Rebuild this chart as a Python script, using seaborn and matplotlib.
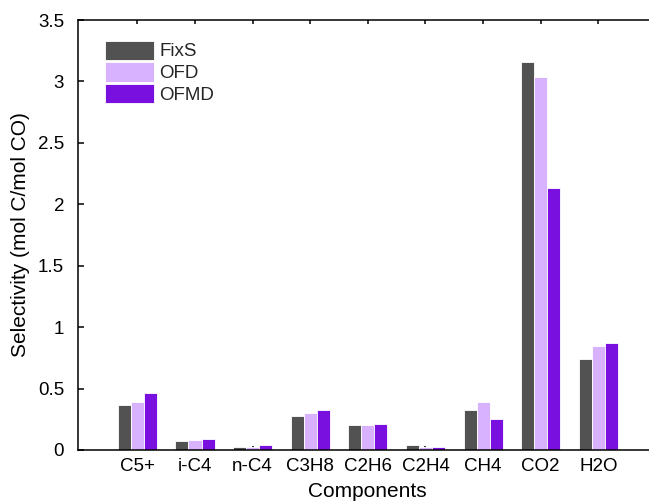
import matplotlib
matplotlib.use("Agg")
import matplotlib.pyplot as plt
import seaborn as sns
import pandas as pd

categories = ["C5+", "i-C4", "n-C4", "C3H8", "C2H6", "C2H4", "CH4", "CO2", "H2O"]
series_names = ["FixS", "OFD", "OFMD"]
fixs = [0.367, 0.073, 0.028, 0.280, 0.204, 0.038, 0.326, 3.16, 0.740]
ofd = [0.394, 0.079, 0.028, 0.300, 0.204, 0.027, 0.394, 3.04, 0.848]
ofmd = [0.462, 0.090, 0.038, 0.326, 0.212, 0.021, 0.250, 2.13, 0.875]
colors = ["#525252", "#D8B2FF", "#7A10E0"]
yticks = [0, 0.5, 1, 1.5, 2, 2.5, 3, 3.5]
ytick_labels = ["0", "0.5", "1", "1.5", "2", "2.5", "3", "3.5"]

rows = []
for name, vals in zip(series_names, [fixs, ofd, ofmd]):
    for c, v in zip(categories, vals):
        rows.append({"Component": c, "Series": name, "Value": v})
df = pd.DataFrame(rows)

sns.set_theme(style="white")
plt.rcParams["font.family"] = ["Liberation Sans", "DejaVu Sans"]

W, H = 649, 503
fig = plt.figure(figsize=(W / 100, H / 100), dpi=100)
left, right, top, bottom = 78, 656, 20, 450
ax = fig.add_axes([left / W, (H - bottom) / H, (right - left) / W, (bottom - top) / H])

sns.barplot(data=df, x="Component", y="Value", hue="Series", order=categories,
            hue_order=series_names, palette=colors, width=0.68, gap=0,
            errorbar=None, ax=ax, linewidth=0.6, saturation=1)

ax.set_xlim(-1.03, 9.0)
ax.set_ylim(0, 3.5)
ax.set_yticks(yticks)
ax.set_yticklabels(ytick_labels)

for s in ax.spines.values():
    s.set_visible(True)
    s.set_color("black")
    s.set_linewidth(1.1)

ax.tick_params(axis="x", direction="in", length=3, width=1.1, color="black",
               top=True, bottom=True, labelsize=13.5, pad=6, labelcolor="black")
ax.tick_params(axis="y", direction="in", length=4, width=1.1, color="black",
               left=True, right=True, labelsize=13.5, pad=10, labelcolor="black")

ax.set_xlabel("Components", fontsize=15, labelpad=5, color="black")
ax.set_ylabel("Selectivity (mol C/mol CO)", fontsize=15, labelpad=6, color="black")

leg = ax.legend(loc="upper left", bbox_to_anchor=(27 / 578, 1 - 20.5 / 430),
                frameon=False, fontsize=13.5, handlelength=2.6, handleheight=1.2,
                labelspacing=0.1, handletextpad=0.3, borderpad=0, borderaxespad=0)

fig.savefig("out.png", dpi=100)
